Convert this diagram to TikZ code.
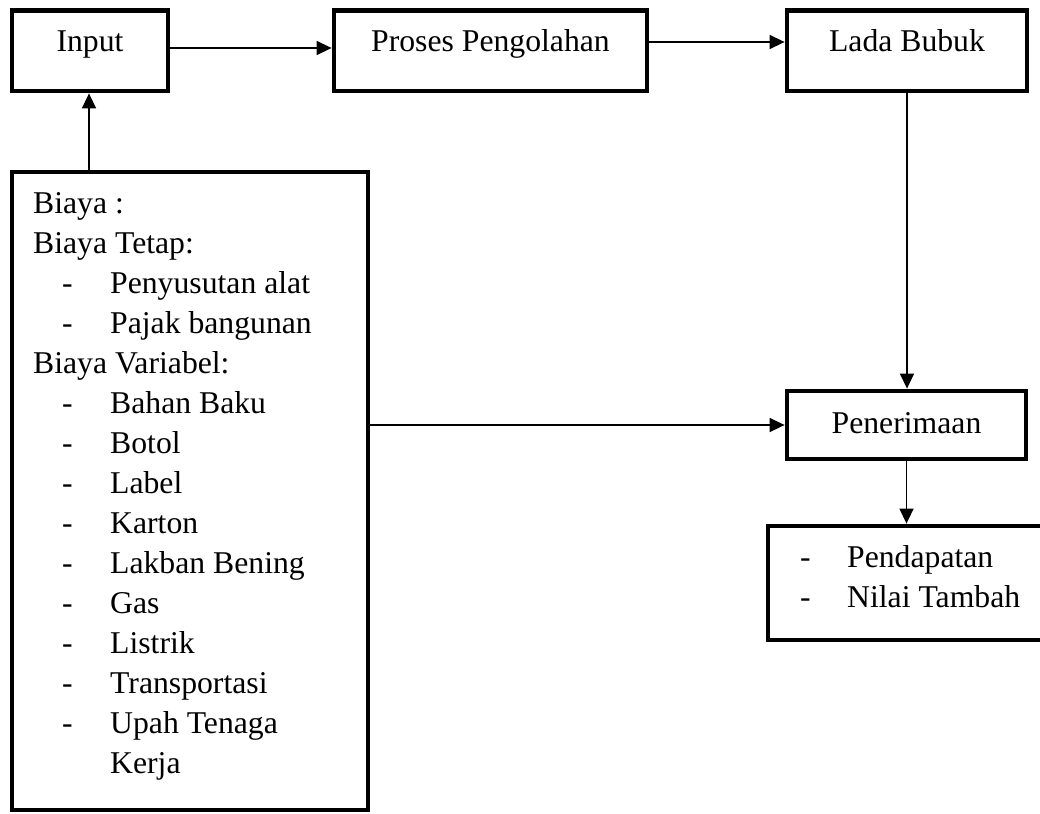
\documentclass[tikz,border=0pt]{standalone}
\usepackage{fontspec}
\setmainfont{Liberation Serif}
\usetikzlibrary{arrows.meta}
\begin{document}
\begin{tikzpicture}[x=1pt,y=-1pt,
  box/.style={draw, line width=4.8pt, rectangle, inner sep=0pt},
  topbox/.style={box, text height=23pt, text depth=20.5pt, minimum height=80.5pt},
  arr/.style={line width=1.5pt, -{Triangle[length=15pt,width=14pt]}},
  txt/.style={inner sep=0pt, anchor=base west},
  font=\fontsize{31.7pt}{40pt}\selectfont]
\useasboundingbox (0,0) rectangle (1040,813);
\clip (0,0) rectangle (1040,813);
% top row
\node[topbox, minimum width=156pt] (input) at (90,50.75) {Input};
\node[topbox, minimum width=313pt] (proses) at (490.5,50.75) {Proses Pengolahan};
\node[topbox, minimum width=240pt] (lada) at (907,50.75) {Lada Bubuk};
% right column
\node[box, minimum width=239pt, minimum height=68pt, text height=22pt, text depth=6pt] (terima) at (906.5,425) {Penerimaan};
\node[box, minimum width=292pt, minimum height=114pt] (hasil) at (914,583) {};
\node[txt] (hasiltxt) at (800,567) {\parbox[t]{235pt}{\baselineskip=40pt
\makebox[47pt][l]{-}Pendapatan\\
\makebox[47pt][l]{-}Nilai Tambah}};
% cost box
\node[box, minimum width=356pt, minimum height=638pt] (biaya) at (190,491) {};
\node[txt] (biayatxt) at (33,213) {\parbox[t]{330pt}{\baselineskip=40pt
Biaya :\\
Biaya Tetap:\\
\hspace*{29pt}\makebox[48pt][l]{-}Penyusutan alat\\
\hspace*{29pt}\makebox[48pt][l]{-}Pajak bangunan\\
Biaya Variabel:\\
\hspace*{29pt}\makebox[48pt][l]{-}Bahan Baku\\
\hspace*{29pt}\makebox[48pt][l]{-}Botol\\
\hspace*{29pt}\makebox[48pt][l]{-}Label\\
\hspace*{29pt}\makebox[48pt][l]{-}Karton\\
\hspace*{29pt}\makebox[48pt][l]{-}Lakban Bening\\
\hspace*{29pt}\makebox[48pt][l]{-}Gas\\
\hspace*{29pt}\makebox[48pt][l]{-}Listrik\\
\hspace*{29pt}\makebox[48pt][l]{-}Transportasi\\
\hspace*{29pt}\makebox[48pt][l]{-}Upah Tenaga\\
\hspace*{77pt}Kerja}};
% connectors
\coordinate (a1) at ([yshift=2.75pt]input.east);
\draw[arr] (a1) -- (a1 -| proses.west);
\coordinate (a2) at ([yshift=8.75pt]proses.east);
\draw[arr] (a2) -- (a2 -| lada.west);
\draw[arr] (lada.south) -- (lada.south |- terima.north);
\coordinate (a3) at ([xshift=-1pt]input.south);
\draw[arr] (a3 |- biaya.north) -- (a3);
\draw[arr] (biaya.east |- terima.west) -- (terima.west);
\draw[arr] (terima.south) -- (terima.south |- hasil.north);
\end{tikzpicture}
\end{document}
